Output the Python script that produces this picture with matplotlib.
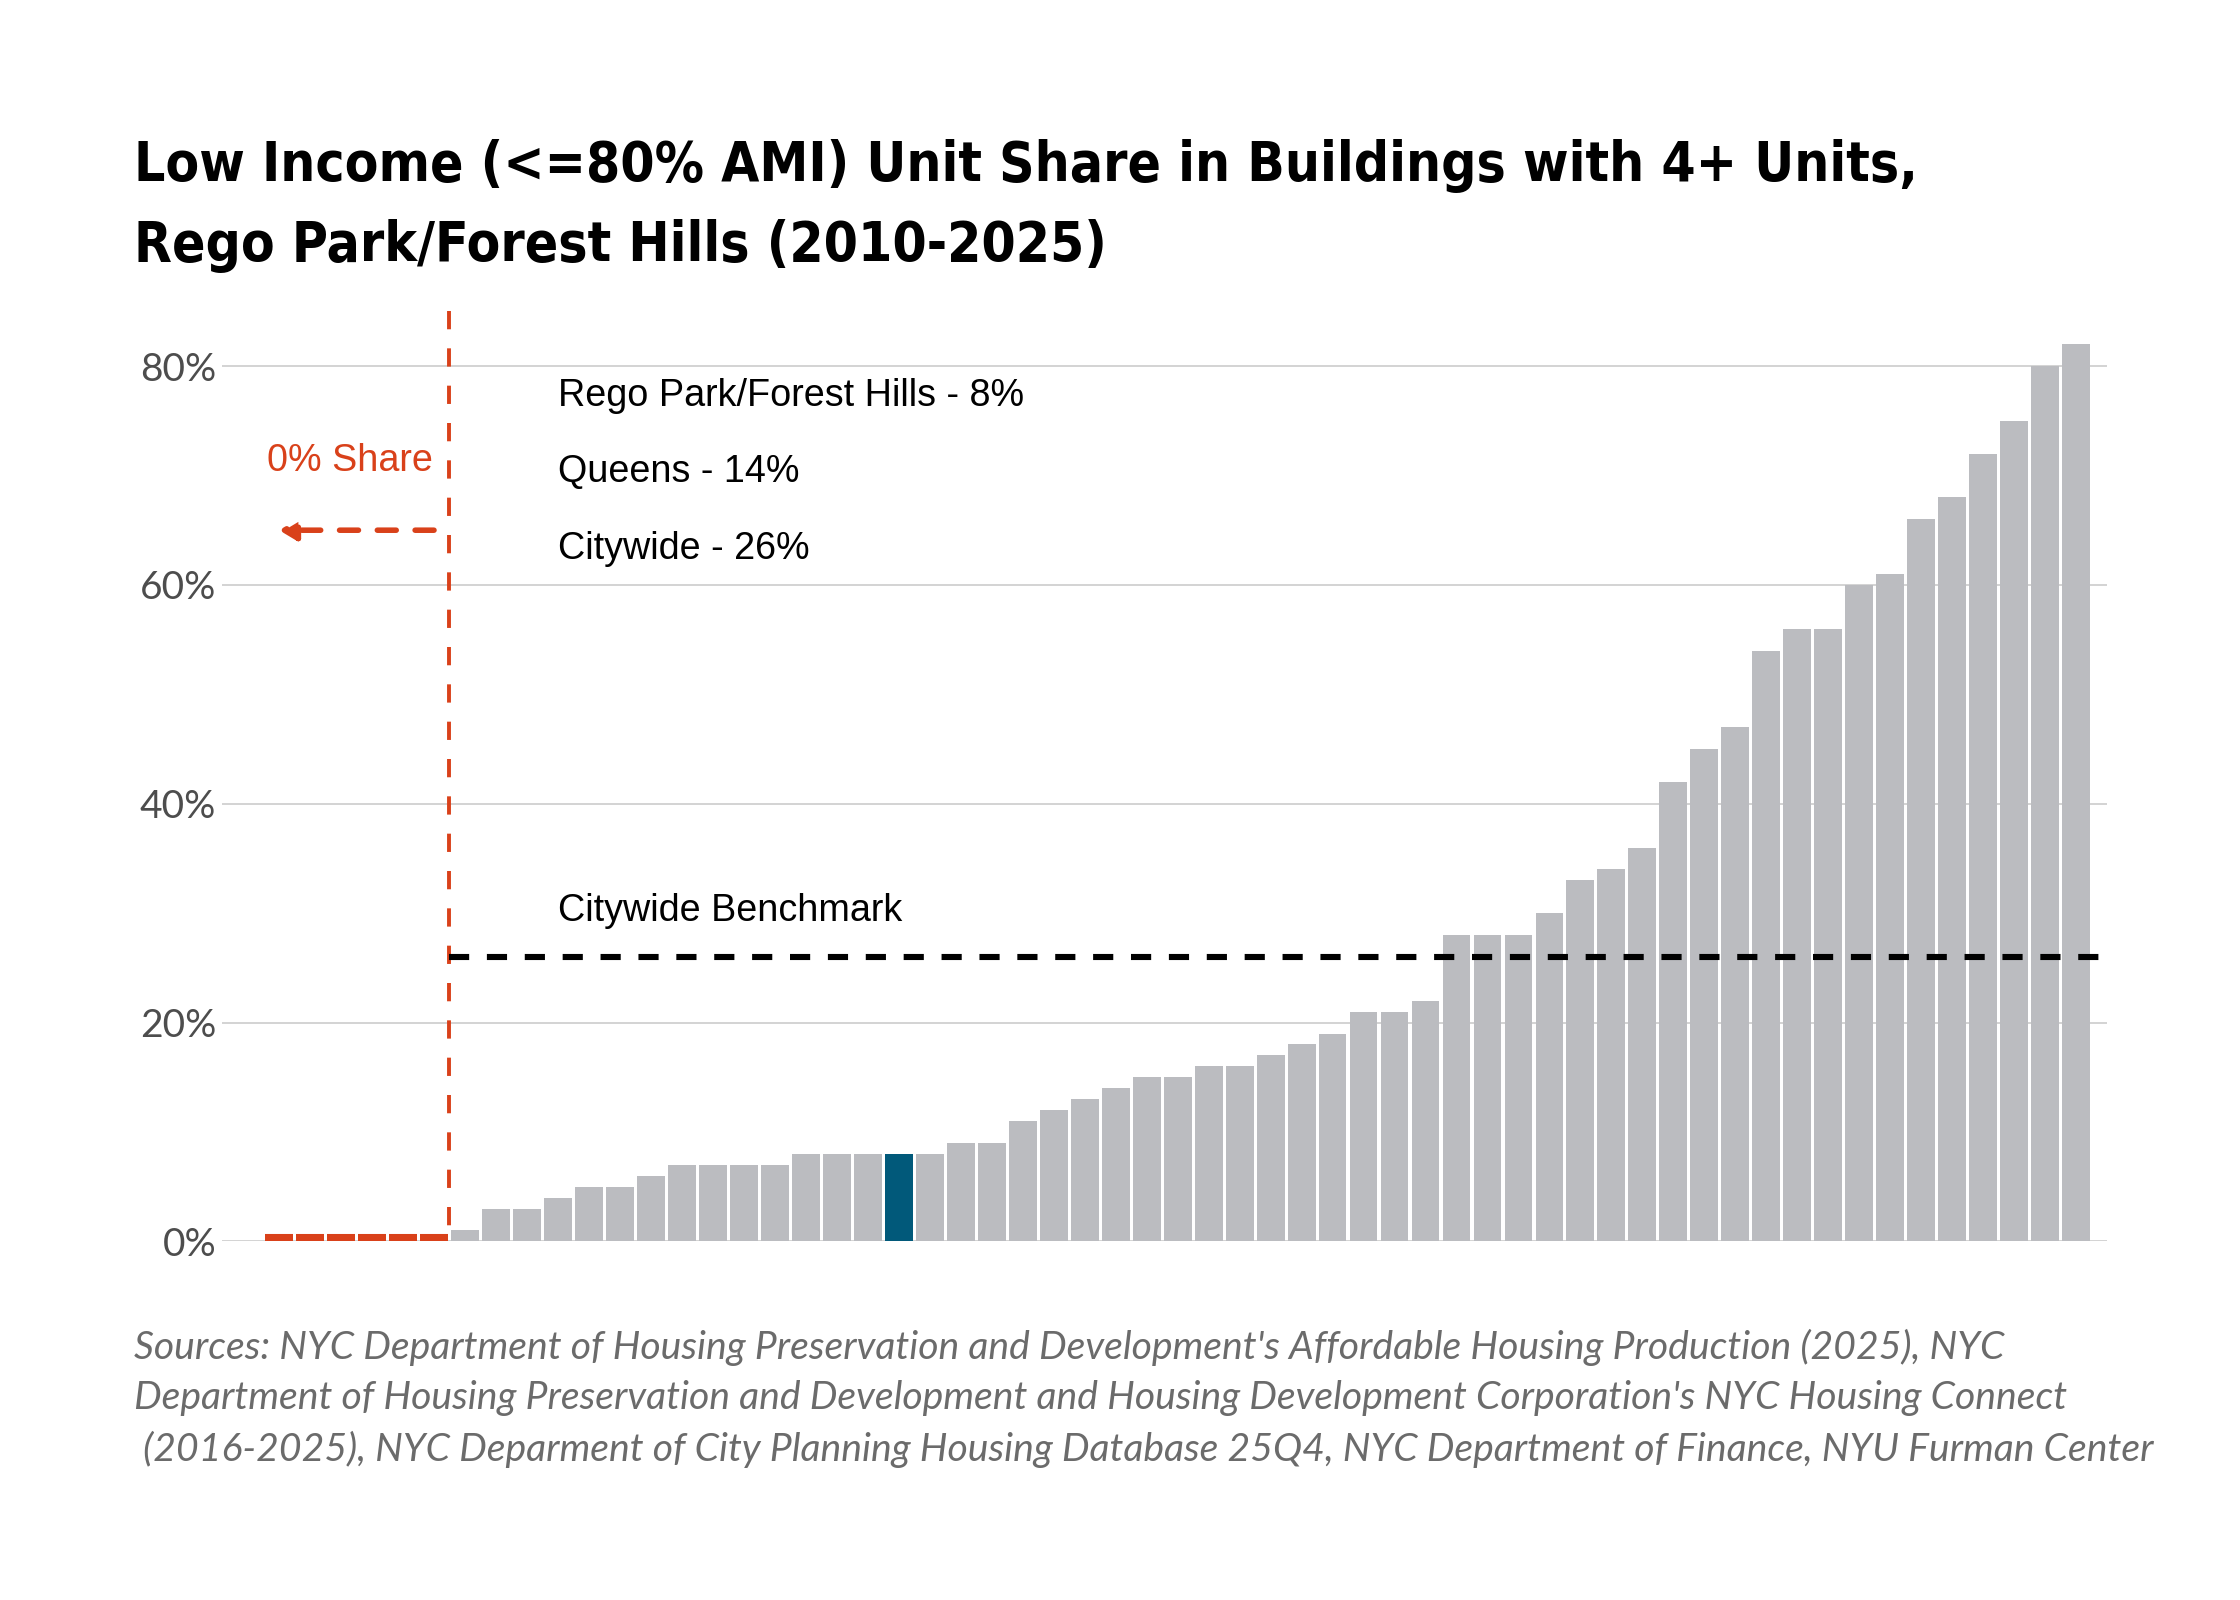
import numpy as np
import matplotlib.pyplot as plt
from matplotlib import font_manager

# share of low income units per building, sorted (buildings with 0% share first)
shares = [0, 0, 0, 0, 0, 0,
          1, 3, 3, 4, 5, 5, 6, 7, 7, 7, 7, 8, 8, 8, 8, 8, 9, 9, 11, 12, 13, 14,
          15, 15, 16, 16, 17, 18, 19, 21, 21, 22, 28, 28, 28, 30, 33, 34, 36,
          42, 45, 47, 54, 56, 56, 60, 61, 66, 68, 72, 75, 80, 82]
highlight = 20  # the Rego Park/Forest Hills bar

summary_names = ["Rego Park/Forest Hills", "Queens", "Citywide"]
summary_values = [8, 14, 26]
benchmark = 26

yticks = [0, 20, 40, 60, 80]

title_lines = ["Low Income (<=80% AMI) Unit Share in Buildings with 4+ Units,",
               "Rego Park/Forest Hills (2010-2025)"]
source_lines = [
    "Sources: NYC Department of Housing Preservation and Development's Affordable Housing Production (2025), NYC",
    "Department of Housing Preservation and Development and Housing Development Corporation's NYC Housing Connect",
    " (2016-2025), NYC Deparment of City Planning Housing Database 25Q4, NYC Department of Finance, NYU Furman Center",
]

GRAY = "#bbbcc0"
TEAL = "#01597a"
RED = "#d9411a"
ARIAL = ["Liberation Sans", "DejaVu Sans"]

# condensed bold for the title if there is one, otherwise Roboto
condensed = [f for f in font_manager.fontManager.ttflist
             if f.stretch in ("condensed", "semi-condensed") and f.weight in ("bold", 700)]
title_font = font_manager.FontProperties(fname=condensed[0].fname) if condensed \
    else font_manager.FontProperties(family="Roboto", weight="bold")

shares = np.array(shares)
x = np.arange(len(shares))
split = int((shares == 0).sum()) - 0.5

fig = plt.figure(figsize=(11.2, 8), dpi=200)
ax = fig.add_axes([0.099, 0.2241, 0.8417, 0.5813])

nz = shares > 0
colors = np.array([TEAL if i == highlight else GRAY for i in x])
ax.bar(x[nz], shares[nz], width=0.9, color=colors[nz], zorder=2)

# buildings with no low income units drawn as red stubs on the baseline
zero_x = x[~nz]
ax.hlines(np.full(len(zero_x), 0.35), zero_x - 0.45, zero_x + 0.45,
          color=RED, lw=2.9, zorder=3)

ax.set_xlim(-1.85, 59.0)
ax.set_ylim(0, 85)

ax.set_yticks(yticks)
ax.set_yticklabels([f"{t}%" for t in yticks], family=["Lato", "DejaVu Sans"],
                   fontsize=14, color="#4d4d4d")
ax.tick_params(axis="y", length=0, pad=2)
ax.set_xticks([])
ax.grid(axis="y", color="#d3d3d3", lw=0.7, zorder=0)
for s in ax.spines.values():
    s.set_visible(False)

# split line between 0% and the rest (drawn top-down so a dash starts at the top)
ax.plot([split, split], [85, 0], color=RED, lw=1.4, dashes=(4.7, 4.9), zorder=4)
ax.annotate("", xy=(0, 65), xytext=(split - 0.5, 65),
            arrowprops=dict(arrowstyle="-|>,head_length=0.5,head_width=0.3",
                            color=RED, lw=2.0, linestyle=(0, (3.4, 3.4)),
                            shrinkA=0, shrinkB=0))
ax.text(2.3, 71.3, "0% Share", color=RED, fontsize=13.6, family=ARIAL,
        ha="center", va="center")

# citywide benchmark
ax.plot([split, 59.0], [benchmark, benchmark], color="black", lw=2.2,
        dashes=(3.3, 2.9), zorder=4)
ax.text(9.0, 30.2, "Citywide Benchmark", fontsize=13.6, family=ARIAL, va="center")

for k, (name, val) in enumerate(zip(summary_names, summary_values)):
    ax.text(9.0, 77.3 - 7.0 * k, f"{name} - {val}%", fontsize=13.6,
            family=ARIAL, va="center")

# title, sized so the first line spans the same width as in the original
t1 = fig.text(0.06, 0.8866, title_lines[0], fontproperties=title_font,
              fontsize=22, va="baseline")
fig.canvas.draw()
w = t1.get_window_extent().width
size = 22 * 1787 / w
t1.set_fontsize(size)
fig.text(0.06, 0.8366, title_lines[1], fontproperties=title_font,
         fontsize=size, va="baseline")

for k, line in enumerate(source_lines):
    fig.text(0.06, 0.158 - 0.032 * k, line, fontsize=14.1, style="italic",
             family=["Lato", "DejaVu Sans"], color="#6b6b6b", va="center")

fig.savefig("out.png", dpi=200, facecolor="white")
